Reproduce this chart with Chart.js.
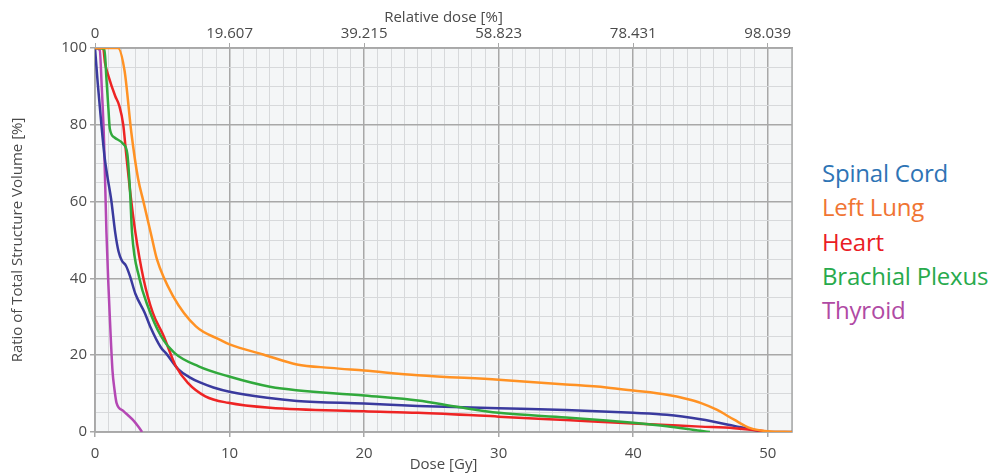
<!DOCTYPE html>
<html>
<head>
<meta charset="utf-8">
<script src="https://cdn.jsdelivr.net/npm/chart.js@4.4.1/dist/chart.umd.min.js"></script>
<style>
  html, body { margin: 0; padding: 0; background: #fff; }
  #wrap { position: absolute; left: 0; top: 0; width: 800px; height: 474px; }
  #legend { position: absolute; left: 822px; top: 156px; font-family: "Open Sans", sans-serif; font-size: 24px; line-height: 34.3px; letter-spacing: -0.2px; }
</style>
</head>
<body>
<div id="wrap"><canvas id="dvh"></canvas></div>
<div id="legend"></div>
<script>
// DVH curves: dose [Gy] / volume [%] pairs
const seriesNames = ['Spinal Cord', 'Left Lung', 'Heart', 'Brachial Plexus', 'Thyroid'];

const spinalDose = [0, 0.2, 0.45, 0.7, 0.9, 1.2, 1.5, 1.75, 2.0, 2.3, 2.6, 3.0, 3.7, 4.1, 4.9, 5.3, 6.2, 7.0, 7.8, 8.8, 10, 12.8, 15, 20, 24, 30, 35, 40, 42.5, 45, 47.5, 49, 50, 51.8];
const spinalVol  = [100, 91, 81, 72, 67, 60.6, 52, 47, 44.6, 43.3, 40.6, 36, 31, 27.5, 22, 20.4, 16.3, 14.3, 12.9, 11.6, 10.5, 8.9, 8.1, 7.4, 6.8, 6.2, 5.7, 5.0, 4.5, 3.3, 1.6, 0.5, 0, 0];

const lungDose = [0, 1.7, 2.2, 2.7, 3.2, 3.6, 4.2, 4.6, 5.8, 7.5, 9.3, 10, 12.5, 15, 17.5, 20, 24, 30, 35, 38, 40, 42.5, 44, 45, 46.2, 47.5, 48.7, 50, 51.8];
const lungVol  = [100, 100, 94, 78, 66, 60, 51, 45, 35.4, 27.5, 24, 22.8, 20.2, 17.6, 16.7, 16.0, 14.8, 13.6, 12.4, 11.6, 10.8, 9.7, 8.6, 7.6, 5.8, 3.2, 1.0, 0.2, 0];

const heartDose = [0, 0.6, 0.75, 1.0, 1.5, 1.8, 2.1, 2.3, 2.6, 3.0, 3.6, 4.3, 5.1, 6.0, 6.9, 8.2, 9.9, 13, 20, 24, 30, 35, 40, 45, 47.5, 49.5, 50];
const heartVol  = [100, 100, 96, 92.7, 87.5, 85, 80, 73, 63, 52, 40, 31, 25, 17.2, 12.8, 9.3, 7.6, 6.3, 5.4, 5.0, 4.0, 3.1, 2.2, 1.4, 1.0, 0.3, 0];

const plexusDose = [0, 0.7, 0.85, 1.0, 1.1, 1.45, 2.1, 2.4, 2.6, 2.75, 3.3, 3.9, 4.9, 5.9, 7.7, 9.9, 13, 20, 24, 27, 30, 35, 38, 40, 42.5, 45, 45.7];
const plexusVol  = [100, 99.7, 92, 84, 79, 76.7, 75, 72.5, 63, 52, 40, 33, 25, 20.6, 17.1, 14.5, 11.8, 9.5, 8.2, 6.5, 5.0, 3.8, 3.0, 2.4, 1.5, 0.3, 0];

const thyroidDose = [0, 0.35, 0.5, 0.67, 0.85, 1.0, 1.1, 1.3, 1.45, 1.6, 2.1, 2.8, 3.2, 3.5];
const thyroidVol  = [100, 99.5, 90, 76, 52, 38, 30, 16, 11, 7.6, 5.5, 3.2, 1.5, 0];

// axes
const doseMax = 51.8;
const doseMajor = [0, 10, 20, 30, 40, 50];
const relTickLabels = ['0', '19.607', '39.215', '58.823', '78.431', '98.039'];
const volMajor = [0, 20, 40, 60, 80, 100];

const lineColors = ['#3a3a9e', '#ff9224', '#ee2424', '#31a93c', '#b448b4'];
const legendColors = ['#2e74b5', '#f07432', '#ea1c24', '#27aa4c', '#b04aa4'];

const MINOR = '#d7d9db';
const MAJOR = '#a8a8a8';
const TEXT = '#4a4a4a';
const FONT = { family: '"Open Sans", sans-serif', size: 15 };

function pairs(xs, ys) {
    return xs.map((x, i) => ({ x: x, y: ys[i] }));
}

const allDose = [spinalDose, lungDose, heartDose, plexusDose, thyroidDose];
const allVol = [spinalVol, lungVol, heartVol, plexusVol, thyroidVol];
const drawOrder = [1, 3, 2, 0, 4];

const datasets = drawOrder.map(i => ({
    label: seriesNames[i],
    data: pairs(allDose[i], allVol[i]),
    borderColor: lineColors[i],
    borderWidth: 2.5,
    pointRadius: 0,
    fill: false,
    cubicInterpolationMode: 'monotone'
}));

// plot background + frame
const plotFrame = {
    id: 'plotFrame',
    beforeDraw(chart) {
        const { ctx, chartArea: a } = chart;
        ctx.save();
        ctx.fillStyle = '#f4f6f7';
        ctx.fillRect(a.left, a.top, a.right - a.left, a.bottom - a.top);
        ctx.restore();
    },
    beforeDatasetsDraw(chart) {
        const { ctx, chartArea: a } = chart;
        ctx.save();
        ctx.strokeStyle = MAJOR;
        ctx.lineWidth = 1.5;
        ctx.strokeRect(a.left, a.top, a.right - a.left, a.bottom - a.top);
        ctx.restore();
    }
};

const isMajorDose = v => doseMajor.includes(v);
const isMajorVol = v => volMajor.includes(v);

new Chart(document.getElementById('dvh'), {
    type: 'line',
    data: { datasets: datasets },
    plugins: [plotFrame],
    options: {
        responsive: true,
        maintainAspectRatio: false,
        animation: false,
        layout: { padding: { left: 0, right: 8, top: 0, bottom: 0 } },
        plugins: { legend: { display: false }, tooltip: { enabled: false } },
        scales: {
            x: {
                type: 'linear',
                position: 'bottom',
                min: 0,
                max: doseMax,
                afterFit: s => { s.height = 42; },
                ticks: {
                    stepSize: 1,
                    maxTicksLimit: 100,
                    autoSkip: false,
                    maxRotation: 0,
                    padding: 8,
                    color: TEXT,
                    font: FONT,
                    callback: v => isMajorDose(v) ? String(v) : ''
                },
                grid: {
                    color: c => isMajorDose(c.tick.value) ? MAJOR : MINOR,
                    lineWidth: c => isMajorDose(c.tick.value) ? 1.5 : 1,
                    tickColor: c => isMajorDose(c.tick.value) ? MAJOR : 'rgba(0,0,0,0)',
                    tickLength: 5
                },
                border: { color: MAJOR, width: 1.5 },
                title: { display: true, text: 'Dose [Gy]', color: TEXT, font: FONT, padding: { top: 0, bottom: 0 } }
            },
            xTop: {
                type: 'linear',
                position: 'top',
                min: 0,
                max: doseMax,
                afterFit: s => { s.height = 48; },
                afterBuildTicks: s => { s.ticks = doseMajor.map(v => ({ value: v })); },
                ticks: {
                    autoSkip: false,
                    maxRotation: 0,
                    padding: 0,
                    color: TEXT,
                    font: FONT,
                    callback: (v, i) => relTickLabels[i]
                },
                grid: { drawOnChartArea: false, tickColor: MAJOR, tickLength: 5 },
                border: { color: MAJOR, width: 1.5 },
                title: { display: true, text: 'Relative dose [%]', color: TEXT, font: FONT, padding: { top: 9, bottom: 0 } }
            },
            y: {
                type: 'linear',
                min: 0,
                max: 100,
                afterFit: s => { s.width = 95; },
                ticks: {
                    stepSize: 5,
                    maxTicksLimit: 50,
                    autoSkip: false,
                    padding: 3,
                    color: TEXT,
                    font: FONT,
                    callback: v => isMajorVol(v) ? String(v) : ''
                },
                grid: {
                    color: c => isMajorVol(c.tick.value) ? MAJOR : MINOR,
                    lineWidth: c => isMajorVol(c.tick.value) ? 1.5 : 1,
                    tickColor: c => isMajorVol(c.tick.value) ? MAJOR : 'rgba(0,0,0,0)',
                    tickLength: 5
                },
                border: { color: MAJOR, width: 1.5 },
                title: { display: true, text: 'Ratio of Total Structure Volume [%]', color: TEXT, font: FONT, padding: { top: 9, bottom: 0 } }
            }
        }
    }
});

// side legend as plain coloured text
document.getElementById('legend').innerHTML = seriesNames
    .map((n, i) => `<div style="color:${legendColors[i]}">${n}</div>`)
    .join('');
</script>
</body>
</html>
